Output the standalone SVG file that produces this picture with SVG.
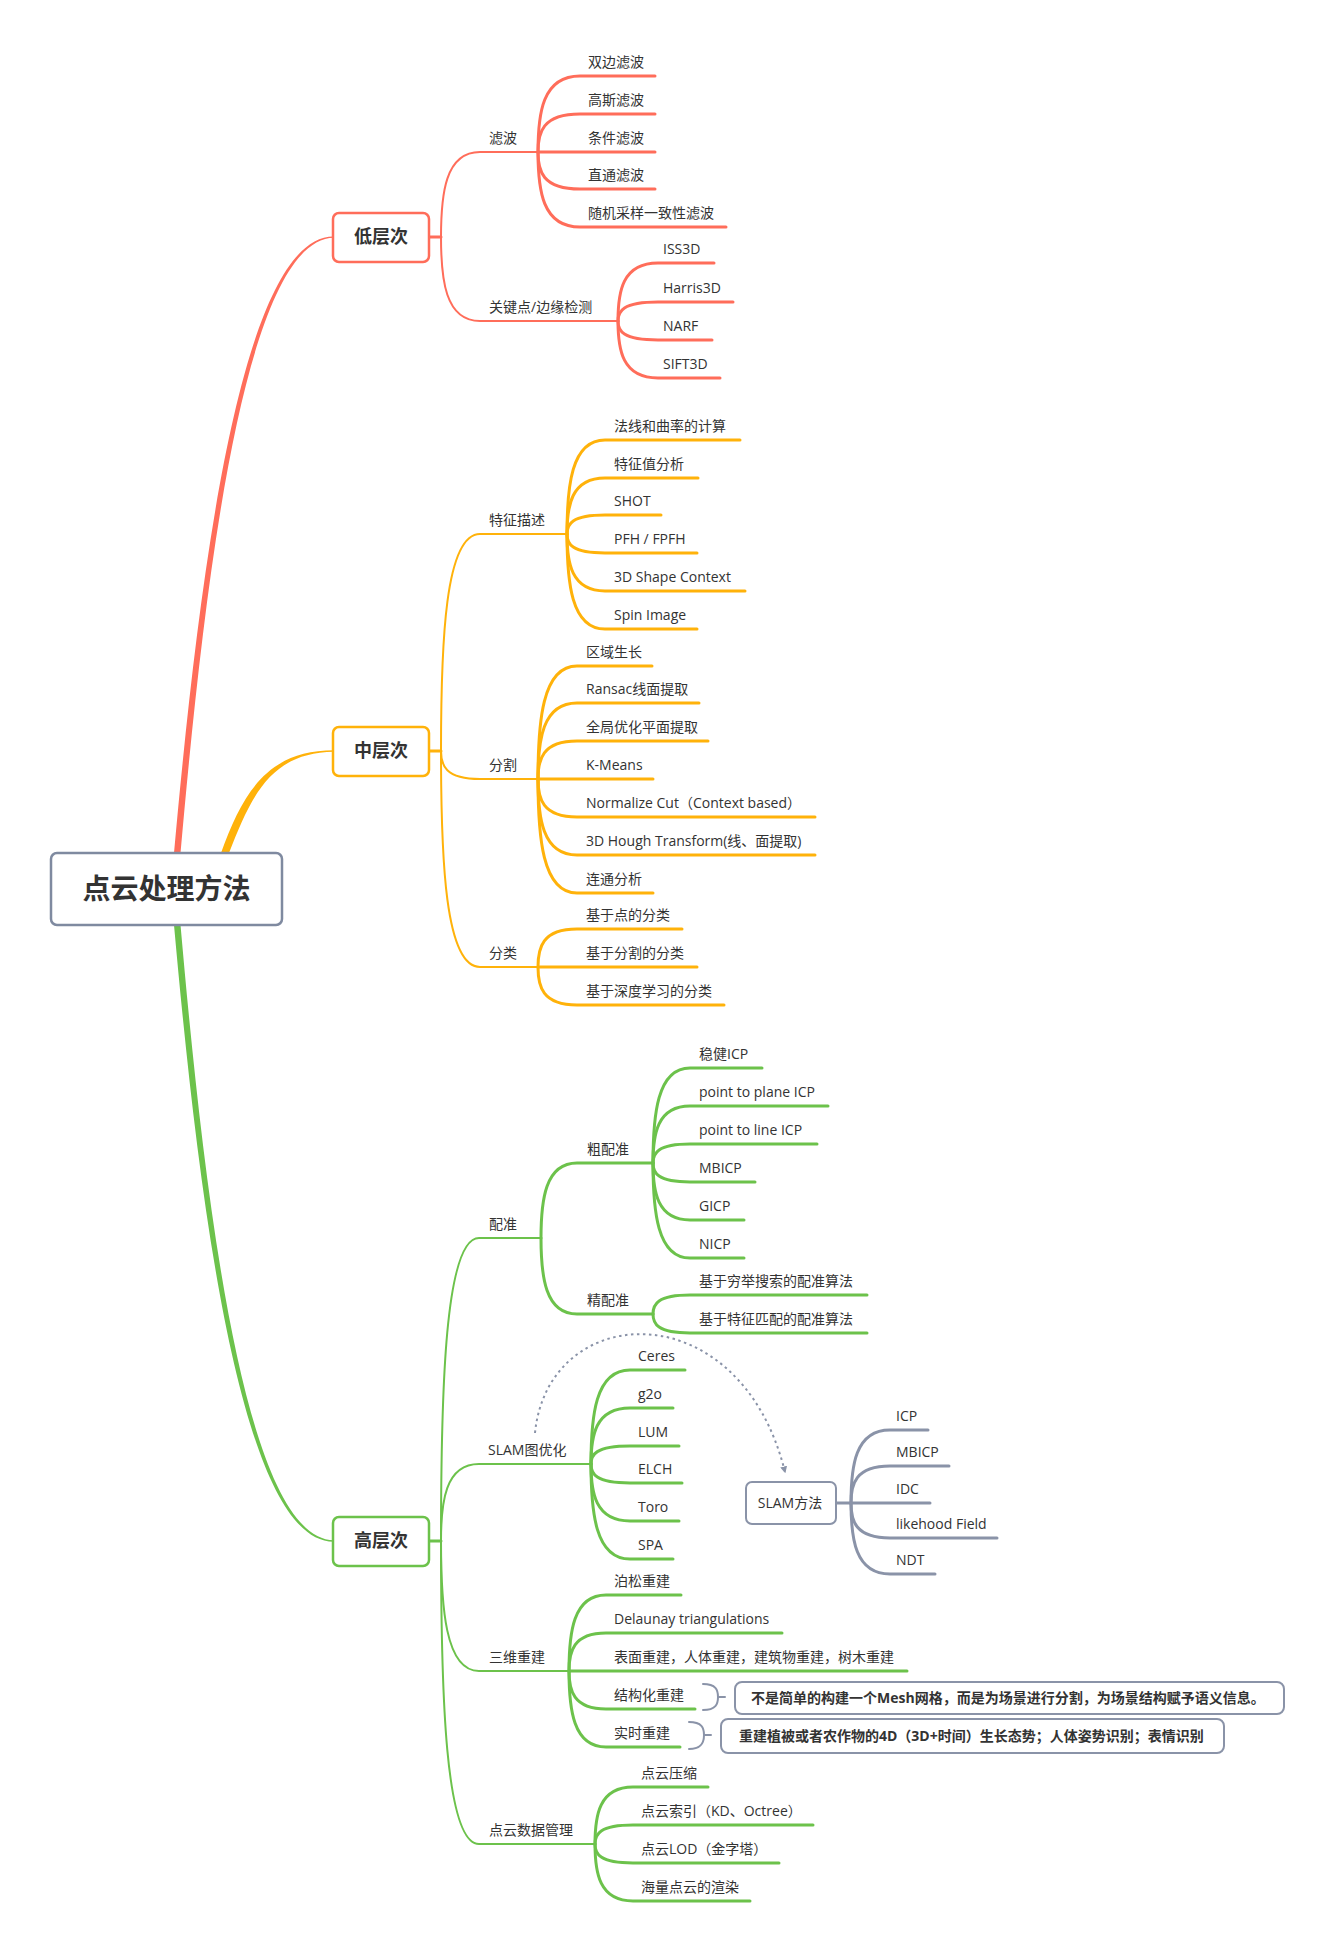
<svg xmlns="http://www.w3.org/2000/svg" width="1330" height="1953" viewBox="0 0 1330 1953">
<defs>
<style>
text{font-family:"Open Sans","Noto Sans CJK SC",sans-serif;fill:#333333;}
.t{font-size:14px;}
.l1{font-size:18px;font-weight:bold;text-anchor:middle;}
.root{font-size:28px;font-weight:bold;text-anchor:middle;}
.note{font-size:14px;font-weight:bold;}
.r{fill:none;stroke:#FF6D5A;stroke-linecap:round;}
.o{fill:none;stroke:#FFB20A;stroke-linecap:round;}
.g{fill:none;stroke:#6CC24B;stroke-linecap:round;}
.s{fill:none;stroke:#8A93A8;stroke-linecap:round;}
.w2{stroke-width:2;}
.w3{stroke-width:3;}
.box{fill:#ffffff;stroke-width:2.5;}
</style>
<marker id="arr" viewBox="0 0 10 10" refX="8" refY="5" markerWidth="7" markerHeight="7" orient="auto" markerUnits="userSpaceOnUse">
<path d="M0,0 L10,5 L0,10 z" fill="#8A93A8"/>
</marker>
</defs>
<rect x="0" y="0" width="1330" height="1953" fill="#ffffff"/>

<g id="connectors">
<path d="M174,853 C197,600 238,235.5 334,236.5 L334,237.8 C242,239 203,600 180.5,853 Z" fill="#FF6D5A"/>
<path d="M221,853 C243,792 268,750.3 334,750.3 L334,751.7 C270,752.5 251,797 229,853 Z" fill="#FFB20A"/>
<path d="M174,925 C197,1180 238,1542.7 334,1541.7 L334,1540.3 C242,1539 203,1180 180.5,925 Z" fill="#6CC24B"/>

<path class="r w3" d="M429,237 H441"/>
<path class="r w2" d="M441,237 C441,194.5 445,152 480,152 H538"/>
<path class="r w2" d="M441,237 C441,279 445,321 480,321 H618"/>
<path class="r w3" d="M538,152 C538,114 542,76 580,76 H655"/>
<path class="r w3" d="M538,152 C538,133 542,114 580,114 H655"/>
<path class="r w3" d="M538,152 H655"/>
<path class="r w3" d="M538,152 C538,170.5 542,189 580,189 H655"/>
<path class="r w3" d="M538,152 C538,189.5 542,227 580,227 H726"/>
<path class="r w3" d="M618,321 C618,292 622,263 658,263 H714"/>
<path class="r w3" d="M618,321 C618,311.5 622,302 658,302 H733"/>
<path class="r w3" d="M618,321 C618,330.5 622,340 658,340 H712"/>
<path class="r w3" d="M618,321 C618,349.5 622,378 658,378 H720"/>

<path class="o w3" d="M429,751 H441"/>
<path class="o w2" d="M441,751 C441,642.5 445,534 480,534 H567"/>
<path class="o w2" d="M441,751 C441,765 445,779 480,779 H538"/>
<path class="o w2" d="M441,751 C441,859 445,967 480,967 H538"/>
<path class="o w3" d="M567,534 C567,487 571,440 605,440 H740"/>
<path class="o w3" d="M567,534 C567,506 571,478 605,478 H698"/>
<path class="o w3" d="M567,534 C567,524.5 571,515 605,515 H661"/>
<path class="o w3" d="M567,534 C567,543.5 571,553 605,553 H697"/>
<path class="o w3" d="M567,534 C567,562.5 571,591 605,591 H745"/>
<path class="o w3" d="M567,534 C567,581.5 571,629 605,629 H697"/>
<path class="o w3" d="M538,779 C538,722.5 542,666 577,666 H652"/>
<path class="o w3" d="M538,779 C538,741 542,703 577,703 H699"/>
<path class="o w3" d="M538,779 C538,760 542,741 577,741 H708"/>
<path class="o w3" d="M538,779 H653"/>
<path class="o w3" d="M538,779 C538,798 542,817 577,817 H815"/>
<path class="o w3" d="M538,779 C538,817 542,855 577,855 H815"/>
<path class="o w3" d="M538,779 C538,836 542,893 577,893 H653"/>
<path class="o w3" d="M538,967 C538,948 542,929 577,929 H682"/>
<path class="o w3" d="M538,967 H697"/>
<path class="o w3" d="M538,967 C538,986 542,1005 577,1005 H724"/>

<path class="g w3" d="M429,1541 H441"/>
<path class="g w2" d="M441,1541 C441,1389.5 445,1238 479,1238 H541"/>
<path class="g w2" d="M441,1541 C441,1502.5 445,1464 479,1464 H591"/>
<path class="g w2" d="M441,1541 C441,1606 445,1671 479,1671 H569"/>
<path class="g w2" d="M441,1541 C441,1692.5 445,1844 479,1844 H595"/>
<path class="g w3" d="M541,1238 C541,1200.5 545,1163 577,1163 H653"/>
<path class="g w3" d="M541,1238 C541,1276 545,1314 577,1314 H653"/>
<path class="g w3" d="M653,1163 C653,1115.5 657,1068 690,1068 H762"/>
<path class="g w3" d="M653,1163 C653,1134.5 657,1106 690,1106 H828"/>
<path class="g w3" d="M653,1163 C653,1153.5 657,1144 690,1144 H817"/>
<path class="g w3" d="M653,1163 C653,1172.5 657,1182 690,1182 H755"/>
<path class="g w3" d="M653,1163 C653,1191.5 657,1220 690,1220 H744"/>
<path class="g w3" d="M653,1163 C653,1210.5 657,1258 690,1258 H744"/>
<path class="g w3" d="M653,1314 C653,1304.5 657,1295 690,1295 H867"/>
<path class="g w3" d="M653,1314 C653,1323.5 657,1333 690,1333 H867"/>
<path class="g w3" d="M591,1464 C591,1417 595,1370 630,1370 H685"/>
<path class="g w3" d="M591,1464 C591,1436 595,1408 630,1408 H673"/>
<path class="g w3" d="M591,1464 C591,1455 595,1446 630,1446 H679"/>
<path class="g w3" d="M591,1464 C591,1473.5 595,1483 630,1483 H682"/>
<path class="g w3" d="M591,1464 C591,1492.5 595,1521 630,1521 H679"/>
<path class="g w3" d="M591,1464 C591,1511.5 595,1559 630,1559 H673"/>
<path class="g w3" d="M569,1671 C569,1633 573,1595 606,1595 H681"/>
<path class="g w3" d="M569,1671 C569,1652 573,1633 606,1633 H782"/>
<path class="g w3" d="M569,1671 H907"/>
<path class="g w3" d="M569,1671 C569,1690 573,1709 606,1709 H695"/>
<path class="g w3" d="M569,1671 C569,1709 573,1747 606,1747 H680"/>
<path class="g w3" d="M595,1844 C595,1815.5 599,1787 633,1787 H708"/>
<path class="g w3" d="M595,1844 C595,1834.5 599,1825 633,1825 H813"/>
<path class="g w3" d="M595,1844 C595,1853.5 599,1863 633,1863 H779"/>
<path class="g w3" d="M595,1844 C595,1872.5 599,1901 633,1901 H750"/>

<path class="s w3" d="M836,1503 H851"/>
<path class="s w3" d="M851,1503 C851,1466.5 855,1430 890,1430 H928"/>
<path class="s w3" d="M851,1503 C851,1484.5 855,1466 890,1466 H949"/>
<path class="s w3" d="M851,1503 H930"/>
<path class="s w3" d="M851,1503 C851,1520.5 855,1538 890,1538 H997"/>
<path class="s w3" d="M851,1503 C851,1538.5 855,1574 890,1574 H935"/>

<path d="M535,1433 C548,1300 740,1290 785,1472" fill="none" stroke="#8A93A8" stroke-width="2" stroke-dasharray="2.5 3.5" marker-end="url(#arr)"/>

<path class="s w2" d="M703,1684 C716,1684 718,1690 718,1697 C718,1704 716,1710 703,1710 M718,1697 H725"/>
<path class="s w2" d="M689,1722 C702,1722 704,1728 704,1735 C704,1742 702,1749 689,1749 M704,1735 H711"/>
</g>

<g id="root">
<rect x="51" y="853" width="231" height="72" rx="6" fill="#ffffff" stroke="#7F8AA0" stroke-width="2.5"/>
<text class="root" x="166.5" y="899">点云处理方法</text>
</g>

<g id="n-low">
<rect class="box" x="333" y="213" width="96" height="49" rx="6" stroke="#FF6D5A"/>
<text class="l1" x="381" y="243">低层次</text>
</g>
<g id="n-filter"><text class="t" x="489" y="143">滤波</text></g>
<g id="n-f1"><text class="t" x="588" y="67">双边滤波</text></g>
<g id="n-f2"><text class="t" x="588" y="105">高斯滤波</text></g>
<g id="n-f3"><text class="t" x="588" y="143">条件滤波</text></g>
<g id="n-f4"><text class="t" x="588" y="180">直通滤波</text></g>
<g id="n-f5"><text class="t" x="588" y="218">随机采样一致性滤波</text></g>
<g id="n-key"><text class="t" x="489" y="312">关键点/边缘检测</text></g>
<g id="n-k1"><text class="t" x="663" y="254">ISS3D</text></g>
<g id="n-k2"><text class="t" x="663" y="293">Harris3D</text></g>
<g id="n-k3"><text class="t" x="663" y="331">NARF</text></g>
<g id="n-k4"><text class="t" x="663" y="369">SIFT3D</text></g>

<g id="n-mid">
<rect class="box" x="333" y="727" width="96" height="49" rx="6" stroke="#FFB20A"/>
<text class="l1" x="381" y="757">中层次</text>
</g>
<g id="n-feat"><text class="t" x="489" y="525">特征描述</text></g>
<g id="n-fe1"><text class="t" x="614" y="431">法线和曲率的计算</text></g>
<g id="n-fe2"><text class="t" x="614" y="469">特征值分析</text></g>
<g id="n-fe3"><text class="t" x="614" y="506">SHOT</text></g>
<g id="n-fe4"><text class="t" x="614" y="544">PFH / FPFH</text></g>
<g id="n-fe5"><text class="t" x="614" y="582">3D Shape Context</text></g>
<g id="n-fe6"><text class="t" x="614" y="620">Spin Image</text></g>
<g id="n-seg"><text class="t" x="489" y="770">分割</text></g>
<g id="n-s1"><text class="t" x="586" y="657">区域生长</text></g>
<g id="n-s2"><text class="t" x="586" y="694">Ransac线面提取</text></g>
<g id="n-s3"><text class="t" x="586" y="732">全局优化平面提取</text></g>
<g id="n-s4"><text class="t" x="586" y="770">K-Means</text></g>
<g id="n-s5"><text class="t" x="586" y="808">Normalize Cut（Context based）</text></g>
<g id="n-s6"><text class="t" x="586" y="846">3D Hough Transform(线、面提取)</text></g>
<g id="n-s7"><text class="t" x="586" y="884">连通分析</text></g>
<g id="n-cls"><text class="t" x="489" y="958">分类</text></g>
<g id="n-c1"><text class="t" x="586" y="920">基于点的分类</text></g>
<g id="n-c2"><text class="t" x="586" y="958">基于分割的分类</text></g>
<g id="n-c3"><text class="t" x="586" y="996">基于深度学习的分类</text></g>

<g id="n-high">
<rect class="box" x="333" y="1517" width="96" height="49" rx="6" stroke="#6CC24B"/>
<text class="l1" x="381" y="1547">高层次</text>
</g>
<g id="n-reg"><text class="t" x="489" y="1229">配准</text></g>
<g id="n-coarse"><text class="t" x="587" y="1154">粗配准</text></g>
<g id="n-r1"><text class="t" x="699" y="1059">稳健ICP</text></g>
<g id="n-r2"><text class="t" x="699" y="1097">point to plane ICP</text></g>
<g id="n-r3"><text class="t" x="699" y="1135">point to line ICP</text></g>
<g id="n-r4"><text class="t" x="699" y="1173">MBICP</text></g>
<g id="n-r5"><text class="t" x="699" y="1211">GICP</text></g>
<g id="n-r6"><text class="t" x="699" y="1249">NICP</text></g>
<g id="n-fine"><text class="t" x="587" y="1305">精配准</text></g>
<g id="n-p1"><text class="t" x="699" y="1286">基于穷举搜索的配准算法</text></g>
<g id="n-p2"><text class="t" x="699" y="1324">基于特征匹配的配准算法</text></g>
<g id="n-slamopt"><text class="t" x="488" y="1455">SLAM图优化</text></g>
<g id="n-o1"><text class="t" x="638" y="1361">Ceres</text></g>
<g id="n-o2"><text class="t" x="638" y="1399">g2o</text></g>
<g id="n-o3"><text class="t" x="638" y="1437">LUM</text></g>
<g id="n-o4"><text class="t" x="638" y="1474">ELCH</text></g>
<g id="n-o5"><text class="t" x="638" y="1512">Toro</text></g>
<g id="n-o6"><text class="t" x="638" y="1550">SPA</text></g>
<g id="n-slammethod">
<rect x="746" y="1482" width="90" height="42" rx="6" fill="#ffffff" stroke="#8A93A8" stroke-width="2"/>
<text class="t" x="790" y="1508" text-anchor="middle">SLAM方法</text>
</g>
<g id="n-m1"><text class="t" x="896" y="1421">ICP</text></g>
<g id="n-m2"><text class="t" x="896" y="1457">MBICP</text></g>
<g id="n-m3"><text class="t" x="896" y="1494">IDC</text></g>
<g id="n-m4"><text class="t" x="896" y="1529">likehood Field</text></g>
<g id="n-m5"><text class="t" x="896" y="1565">NDT</text></g>
<g id="n-recon"><text class="t" x="489" y="1662">三维重建</text></g>
<g id="n-e1"><text class="t" x="614" y="1586">泊松重建</text></g>
<g id="n-e2"><text class="t" x="614" y="1624">Delaunay triangulations</text></g>
<g id="n-e3"><text class="t" x="614" y="1662">表面重建，人体重建，建筑物重建，树木重建</text></g>
<g id="n-e4"><text class="t" x="614" y="1700">结构化重建</text></g>
<g id="n-e5"><text class="t" x="614" y="1738">实时重建</text></g>
<g id="n-note1">
<rect x="735" y="1682" width="549" height="32" rx="7" fill="#ffffff" stroke="#8A93A8" stroke-width="2"/>
<text class="note" x="751" y="1703">不是简单的构建一个Mesh网格，而是为场景进行分割，为场景结构赋予语义信息。</text>
</g>
<g id="n-note2">
<rect x="721" y="1719" width="503" height="34" rx="7" fill="#ffffff" stroke="#8A93A8" stroke-width="2"/>
<text class="note" x="739" y="1741">重建植被或者农作物的4D（3D+时间）生长态势；人体姿势识别；表情识别</text>
</g>
<g id="n-data"><text class="t" x="489" y="1835">点云数据管理</text></g>
<g id="n-d1"><text class="t" x="641" y="1778">点云压缩</text></g>
<g id="n-d2"><text class="t" x="641" y="1816">点云索引（KD、Octree）</text></g>
<g id="n-d3"><text class="t" x="641" y="1854">点云LOD（金字塔）</text></g>
<g id="n-d4"><text class="t" x="641" y="1892">海量点云的渲染</text></g>
</svg>
